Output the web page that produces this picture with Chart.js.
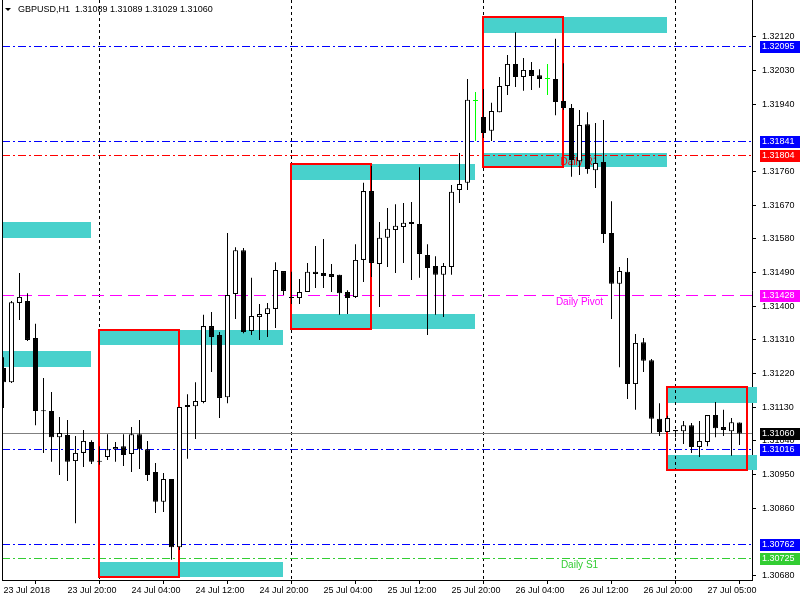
<!DOCTYPE html>
<html lang="en">
<head>
    <meta charset="UTF-8">
    <title>GBPUSD,H1</title>
    <script src="https://cdn.jsdelivr.net/npm/chart.js"></script>
    <style>
        html, body { margin: 0; padding: 0; background: #fff; }
    </style>
</head>
<body>
    <canvas id="chart" width="800" height="600"></canvas>

    <script>
        // Symbol and timeframe shown in the header
        const symbol = 'GBPUSD,H1';

        // Hourly candles, bar 0 = 23 Jul 2018 12:00
        const opens = [
            1.31235, 1.31197, 1.31409, 1.31414, 1.31315, 1.31122, 1.31120, 1.31050, 1.31056, 1.30986,
            1.31008, 1.31037, 1.30986, 1.30997, 1.31018, 1.31026, 1.31005, 1.31058, 1.31018, 1.30957,
            1.30877, 1.30938, 1.30756, 1.31136, 1.31133, 1.31144, 1.31347, 1.31323, 1.31157, 1.31433,
            1.31550, 1.31334, 1.31371, 1.31379, 1.31393, 1.31494, 1.31425, 1.31422, 1.31438, 1.31492,
            1.31489, 1.31486, 1.31484, 1.31438, 1.31425, 1.31524, 1.31708, 1.31513, 1.31583, 1.31604,
            1.31612, 1.31625, 1.31620, 1.31537, 1.31508, 1.31484, 1.31505, 1.31711, 1.31730, 1.31949,
            1.31906, 1.31869, 1.31919, 1.31989, 1.32048, 1.32013, 1.32032, 1.32018, 1.32008, 1.32008,
            1.31949, 1.31930, 1.31788, 1.31887, 1.31764, 1.31786, 1.31596, 1.31460, 1.31492, 1.31192,
            1.31304, 1.31256, 1.31099, 1.31064, 1.31069, 1.31066, 1.31082, 1.31024, 1.31037, 1.31109,
            1.31077, 1.31066, 1.31089
        ];
        const highs = [
            1.31264, 1.31414, 1.31489, 1.31435, 1.31353, 1.31208, 1.31171, 1.31104, 1.31096, 1.31053,
            1.31069, 1.31042, 1.31026, 1.31058, 1.31037, 1.31058, 1.31077, 1.31096, 1.31040, 1.30981,
            1.30954, 1.30938, 1.31131, 1.31165, 1.31197, 1.31377, 1.31385, 1.31331, 1.31596, 1.31558,
            1.31556, 1.31476, 1.31406, 1.31409, 1.31518, 1.31494, 1.31492, 1.31473, 1.31516, 1.31561,
            1.31580, 1.31513, 1.31484, 1.31443, 1.31566, 1.31730, 1.31775, 1.31625, 1.31663, 1.31673,
            1.31676, 1.31679, 1.31772, 1.31566, 1.31534, 1.31516, 1.31724, 1.31810, 1.32008, 1.31973,
            1.31981, 1.31944, 1.32013, 1.32072, 1.32133, 1.32064, 1.32053, 1.32034, 1.32048, 1.32115,
            1.32050, 1.31941, 1.31925, 1.31919, 1.31890, 1.31898, 1.31681, 1.31505, 1.31529, 1.31326,
            1.31315, 1.31259, 1.31141, 1.31107, 1.31069, 1.31093, 1.31088, 1.31093, 1.31109, 1.31144,
            1.31123, 1.31101, 1.31089
        ];
        const lows = [
            1.31128, 1.31195, 1.31363, 1.31307, 1.31082, 1.31008, 1.30984, 1.30949, 1.30933, 1.30820,
            1.30970, 1.30978, 1.30976, 1.30989, 1.30984, 1.30973, 1.30957, 1.30965, 1.30933, 1.30847,
            1.30850, 1.30722, 1.30748, 1.30992, 1.31045, 1.31141, 1.31224, 1.31101, 1.31141, 1.31366,
            1.31328, 1.31323, 1.31310, 1.31318, 1.31342, 1.31430, 1.31406, 1.31406, 1.31438, 1.31449,
            1.31449, 1.31438, 1.31377, 1.31379, 1.31422, 1.31465, 1.31478, 1.31398, 1.31505, 1.31489,
            1.31516, 1.31470, 1.31476, 1.31323, 1.31377, 1.31371, 1.31484, 1.31676, 1.31711, 1.31842,
            1.31850, 1.31842, 1.31919, 1.31965, 1.31986, 1.31976, 1.31978, 1.31984, 1.31965, 1.31911,
            1.31925, 1.31746, 1.31751, 1.31754, 1.31716, 1.31569, 1.31366, 1.31237, 1.31152, 1.31123,
            1.31224, 1.31061, 1.31053, 1.31064, 1.31050, 1.31032, 1.31008, 1.30997, 1.31026, 1.31050,
            1.31053, 1.31000, 1.31029
        ];
        const closes = [
            1.31197, 1.31411, 1.31425, 1.31310, 1.31120, 1.31119, 1.31050, 1.31061, 1.30984, 1.31008,
            1.31040, 1.30984, 1.30984, 1.31018, 1.31024, 1.31002, 1.31058, 1.31018, 1.30949, 1.30877,
            1.30938, 1.30756, 1.31131, 1.31131, 1.31147, 1.31347, 1.31318, 1.31155, 1.31430, 1.31550,
            1.31331, 1.31374, 1.31379, 1.31395, 1.31497, 1.31441, 1.31422, 1.31438, 1.31492, 1.31486,
            1.31481, 1.31478, 1.31435, 1.31422, 1.31524, 1.31708, 1.31516, 1.31583, 1.31607, 1.31615,
            1.31623, 1.31620, 1.31540, 1.31502, 1.31484, 1.31508, 1.31706, 1.31727, 1.31952, 1.31949,
            1.31863, 1.31922, 1.31989, 1.32048, 1.32013, 1.32032, 1.32016, 1.32008, 1.32008, 1.31946,
            1.31930, 1.31791, 1.31885, 1.31767, 1.31783, 1.31593, 1.31460, 1.31494, 1.31192, 1.31302,
            1.31254, 1.31099, 1.31064, 1.31101, 1.31066, 1.31082, 1.31024, 1.31040, 1.31109, 1.31074,
            1.31069, 1.31090, 1.31060
        ];

        // Time axis: bar index of each label and its text
        const timeTickBars = [0, 8, 16, 24, 32, 40, 48, 56, 64, 72, 80, 88];
        const timeTickLabels = [
            '23 Jul 2018', '23 Jul 20:00', '24 Jul 04:00', '24 Jul 12:00', '24 Jul 20:00', '25 Jul 04:00',
            '25 Jul 12:00', '25 Jul 20:00', '26 Jul 04:00', '26 Jul 12:00', '26 Jul 20:00', '27 Jul 05:00'
        ];

        // Price axis ticks (the ones hidden under price tags are left out)
        const priceTicks = [
            1.30680, 1.30860, 1.30950, 1.31040, 1.31130, 1.31220, 1.31310, 1.31400,
            1.31490, 1.31580, 1.31670, 1.31760, 1.31940, 1.32030, 1.32120
        ];
        const priceMin = 1.306681;
        const priceMax = 1.322189;

        // Day separators (bar index of midnight)
        const separatorBars = [12, 36, 60, 84];

        // Supply / demand zones: bar range and price range
        const zoneBars = [
            [-1, 11], [-1, 11], [12, 35], [12, 35], [36, 59],
            [36, 59], [60, 83], [60, 83], [83, 94.2], [83, 94.2]
        ];
        const zonePrices = [
            [1.31583, 1.31625], [1.31238, 1.31280], [1.31297, 1.31337], [1.30676, 1.30716], [1.31738, 1.31780],
            [1.31339, 1.31379], [1.32131, 1.32174], [1.31772, 1.31810], [1.31141, 1.31184], [1.30962, 1.31002]
        ];

        // Red boxes around the first hours of each day
        const boxBars = [[12, 22], [36, 46], [60, 70], [83, 93]];
        const boxPrices = [[1.30676, 1.31337], [1.31339, 1.31780], [1.31772, 1.32174], [1.30962, 1.31184]];

        // Horizontal levels
        const levelPrices = [1.32095, 1.31841, 1.31804, 1.31428, 1.31016, 1.30762, 1.30725];
        const levelNames = ['', '', 'Daily R1', 'Daily Pivot', '', '', 'Daily S1'];
        const levelColors = ['#0000ff', '#0000ff', '#ff0000', '#ff00ff', '#0000ff', '#0000ff', '#32cd32'];
        const levelDashes = [
            [8, 3, 2, 3], [8, 3, 2, 3], [8, 3, 2, 3], [12, 6], [8, 3, 2, 3], [8, 3, 2, 3], [8, 3, 2, 3]
        ];
        const levelNameBar = 72;

        const FONT = "'Liberation Sans', Arial, sans-serif";
        Chart.defaults.font.family = FONT;
        Chart.defaults.font.size = 9;
        Chart.defaults.color = '#000';

        const isDoji = i => opens[i] === closes[i];
        const wickData = opens.map((o, i) => ({ x: i, y: [lows[i], highs[i]] }));
        const bodyData = opens.map((o, i) => ({ x: i, y: [o, closes[i]] }));
        const wickColors = opens.map((o, i) => isDoji(i) ? '#00ff00' : '#000');
        const bodyFills = opens.map((o, i) => isDoji(i) ? '#00ff00' : (closes[i] > o ? '#fff' : '#000'));

        // zones, boxes, separators and levels sit behind the candles
        const overlay = {
            id: 'overlay',
            beforeDatasetsDraw(chart) {
                const { ctx, chartArea: area, scales } = chart;
                const px = v => scales.x.getPixelForValue(v);
                const py = v => scales.y.getPixelForValue(v);
                ctx.save();
                ctx.beginPath();
                ctx.rect(area.left, area.top, area.right - area.left + 5, area.bottom - area.top);
                ctx.clip();

                ctx.fillStyle = '#48d1cc';
                zoneBars.forEach((b, k) => {
                    const x0 = Math.floor(px(b[0])), x1 = Math.floor(px(b[1]));
                    const y0 = Math.round(py(zonePrices[k][1])), y1 = Math.round(py(zonePrices[k][0]));
                    ctx.fillRect(x0, y0, x1 - x0, y1 - y0);
                });

                ctx.lineWidth = 1;
                ctx.strokeStyle = '#000';
                ctx.setLineDash([3, 3]);
                separatorBars.forEach(b => {
                    const x = Math.floor(px(b)) + 0.5;
                    ctx.beginPath();
                    ctx.moveTo(x, area.top);
                    ctx.lineTo(x, area.bottom);
                    ctx.stroke();
                });

                levelPrices.forEach((p, k) => {
                    const y = Math.floor(py(p)) + 0.5;
                    ctx.strokeStyle = levelColors[k];
                    ctx.setLineDash(levelDashes[k]);
                    ctx.beginPath();
                    ctx.moveTo(area.left, y);
                    ctx.lineTo(area.right, y);
                    ctx.stroke();
                });

                // bid line
                const last = closes.length - 1;
                const yb = Math.floor(py(closes[last])) + 0.5;
                ctx.setLineDash([]);
                ctx.strokeStyle = '#808080';
                ctx.beginPath();
                ctx.moveTo(area.left, yb);
                ctx.lineTo(area.right, yb);
                ctx.stroke();

                ctx.lineWidth = 2;
                ctx.strokeStyle = '#ff0000';
                boxBars.forEach((b, k) => {
                    const x0 = Math.floor(px(b[0])), x1 = Math.floor(px(b[1]));
                    const y0 = Math.round(py(boxPrices[k][1])), y1 = Math.round(py(boxPrices[k][0]));
                    ctx.strokeRect(x0, y0, x1 - x0, y1 - y0);
                });

                ctx.font = '10px ' + FONT;
                ctx.textAlign = 'center';
                ctx.textBaseline = 'top';
                levelPrices.forEach((p, k) => {
                    if (!levelNames[k]) return;
                    ctx.fillStyle = levelColors[k];
                    ctx.fillText(levelNames[k], px(levelNameBar), Math.floor(py(p)) + 2);
                });
                ctx.restore();
            },
            afterDraw(chart) {
                const { ctx, chartArea: area, scales } = chart;
                ctx.save();
                ctx.strokeStyle = '#000';
                ctx.lineWidth = 1;
                ctx.beginPath();
                ctx.moveTo(area.left + 0.5, 0);
                ctx.lineTo(area.left + 0.5, area.bottom);
                ctx.stroke();

                // price labels on the axis
                const last = closes.length - 1;
                const tags = levelPrices.map((p, k) => [p, levelColors[k]]);
                tags.push([closes[last], '#000']);
                ctx.font = '9px ' + FONT;
                ctx.textAlign = 'left';
                ctx.textBaseline = 'middle';
                tags.forEach(([p, c]) => {
                    const y = Math.floor(scales.y.getPixelForValue(p));
                    ctx.fillStyle = c;
                    ctx.fillRect(760, y - 5, 40, 12);
                    ctx.fillStyle = '#fff';
                    ctx.fillText(p.toFixed(5), 762, y + 1);
                });

                // header
                ctx.fillStyle = '#000';
                ctx.beginPath();
                ctx.moveTo(5, 8);
                ctx.lineTo(11, 8);
                ctx.lineTo(8, 11);
                ctx.closePath();
                ctx.fill();
                const header = symbol + '  ' + [opens[last], highs[last], lows[last], closes[last]]
                    .map(v => v.toFixed(5)).join(' ');
                ctx.fillText(header, 18, 10);
                ctx.restore();
            }
        };

        new Chart(document.getElementById('chart'), {
            type: 'bar',
            data: {
                datasets: [
                    {
                        label: 'body',
                        data: bodyData,
                        order: 0,
                        grouped: false,
                        barThickness: 5,
                        minBarLength: 1,
                        borderWidth: 1,
                        borderColor: wickColors,
                        backgroundColor: bodyFills,
                        borderSkipped: false,
                        inflateAmount: 0
                    },
                    {
                        label: 'wick',
                        data: wickData,
                        order: 1,
                        grouped: false,
                        barThickness: 1,
                        borderWidth: 0,
                        backgroundColor: wickColors,
                        inflateAmount: 0
                    }
                ]
            },
            options: {
                responsive: false,
                animation: false,
                layout: { padding: { left: 2, top: 0, right: 0, bottom: 0 } },
                plugins: {
                    legend: { display: false },
                    tooltip: { enabled: false }
                },
                scales: {
                    x: {
                        type: 'linear',
                        min: -0.1875,
                        max: 93.5625,
                        offset: false,
                        bounds: 'data',
                        afterFit: s => { s.height = 20; s.paddingLeft = 0; s.paddingRight = 0; },
                        afterBuildTicks: s => { s.ticks = timeTickBars.map(v => ({ value: v })); },
                        ticks: {
                            align: 'start',
                            autoSkip: false,
                            maxRotation: 0,
                            minRotation: 0,
                            padding: 1,
                            callback: v => timeTickLabels[timeTickBars.indexOf(v)]
                        },
                        grid: { drawOnChartArea: false, tickLength: 4, color: '#000' },
                        border: { color: '#000', width: 1 }
                    },
                    y: {
                        position: 'right',
                        min: priceMin,
                        max: priceMax,
                        bounds: 'data',
                        afterFit: s => { s.width = 48; s.paddingTop = 0; s.paddingBottom = 0; },
                        afterBuildTicks: s => { s.ticks = priceTicks.map(v => ({ value: v })); },
                        ticks: {
                            autoSkip: false,
                            padding: 6,
                            callback: v => v.toFixed(5)
                        },
                        grid: { drawOnChartArea: false, tickLength: 4, color: '#000' },
                        border: { color: '#000', width: 1 }
                    }
                }
            },
            plugins: [overlay]
        });
    </script>
</body>
</html>
